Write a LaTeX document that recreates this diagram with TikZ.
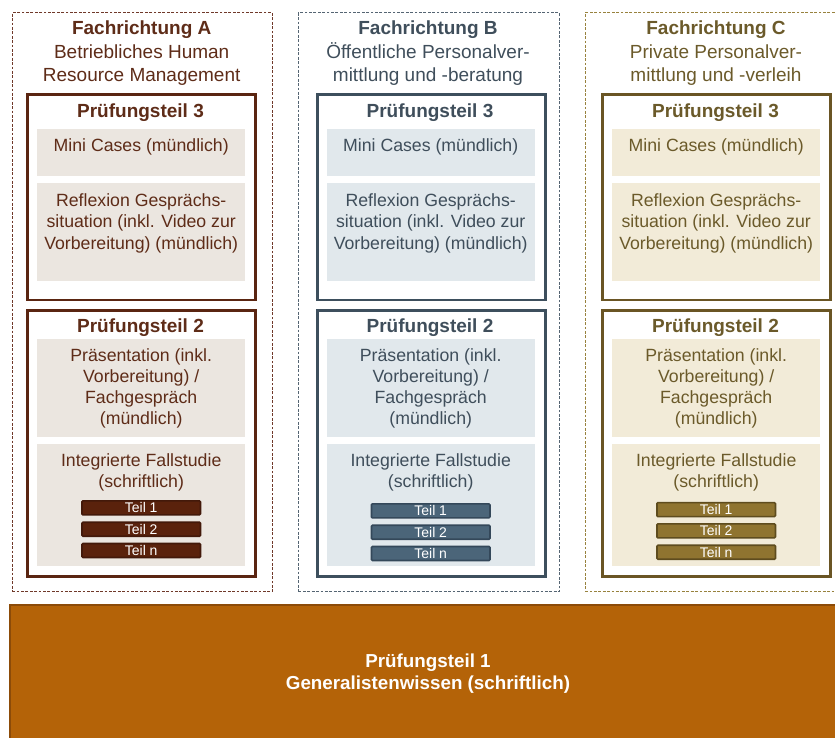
\documentclass[tikz,border=0pt]{standalone}
\usepackage{fontspec}
\setmainfont{Liberation Sans}
\definecolor{aMain}{HTML}{5A2511}
\definecolor{aText}{HTML}{5E2C18}
\definecolor{aFill}{HTML}{EBE6E0}
\definecolor{aTeil}{HTML}{5A220C}
\definecolor{aTeilLine}{HTML}{43190A}
\definecolor{aDash}{HTML}{70392A}
\definecolor{bMain}{HTML}{3D4F5D}
\definecolor{bText}{HTML}{3F4E5B}
\definecolor{bFill}{HTML}{E1E8EC}
\definecolor{bTeil}{HTML}{4B6579}
\definecolor{bTeilLine}{HTML}{34485A}
\definecolor{bDash}{HTML}{556573}
\definecolor{cMain}{HTML}{6A5524}
\definecolor{cText}{HTML}{6B5A2A}
\definecolor{cFill}{HTML}{F2EBD8}
\definecolor{cTeil}{HTML}{8F7430}
\definecolor{cTeilLine}{HTML}{5E4C1E}
\definecolor{cDash}{HTML}{98823E}
\definecolor{baseFill}{HTML}{B46308}
\definecolor{baseLine}{HTML}{8C4B08}
\tikzset{
 outerbox/.style={dash pattern=on 2.8pt off 1.6pt, line width=1pt, inner sep=0pt, anchor=north west},
 ptbox/.style={line width=2.8pt, fill=white, inner sep=0pt, anchor=north west, minimum width=228pt},
 innerbox/.style={inner sep=0pt, anchor=north west, minimum width=208pt},
 hdbold/.style={font=\fontsize{19}{23}\selectfont\bfseries, anchor=base, inner sep=0pt, align=center},
 hdreg/.style={font=\fontsize{19}{23}\selectfont, anchor=base, inner sep=0pt, align=center},
 body/.style={font=\fontsize{17.7}{21.2}\selectfont, anchor=base, inner sep=0pt, align=center},
 teilbar/.style={line width=1.6pt, rounded corners=1pt, minimum width=118.5pt, minimum height=14pt, inner sep=0pt, text=white, font=\fontsize{14}{15}\selectfont},
}
% #1 suffix, #2 outer left, #3 pt-box left, #4 main, #5 text colour, #6 fill, #7 teil fill, #8 teil line, #9 teil top
% (base anchor of a multi-line node = baseline of its last line)
\newcommand\fachspalte[9]{%
 \node[ptbox, draw=#4, minimum height=205.5pt] (pdrei#1) at (#3+1.4,93.1) {};
 \node[hdbold, text=#5] (pdreilabel#1) at (#3+115.5,117.3) {Prüfungsteil 3};
 \node[innerbox, fill=#6, minimum height=46.4pt] (mini#1) at (#3+12,129.3) {};
 \node[body, text=#5] (minitext#1) at (mini#1.north |- 0,151.5) {Mini Cases (mündlich)};
 \node[innerbox, fill=#6, minimum height=97.7pt] (refl#1) at (#3+12,183.3) {};
 \node[body, text=#5] (refltext#1) at (refl#1.north |- 0,249.1) {Reflexion Gesprächs-\\situation (inkl. Video zur\\Vorbereitung) (mündlich)};
 \node[ptbox, draw=#4, minimum height=265.9pt] (pzwei#1) at (#3+1.4,309.4) {};
 \node[hdbold, text=#5] (pzweilabel#1) at (#3+115.5,332.5) {Prüfungsteil 2};
 \node[innerbox, fill=#6, minimum height=97.7pt] (praes#1) at (#3+12,339) {};
 \node[body, text=#5] (praestext#1) at (praes#1.north |- 0,424.8) {Präsentation (inkl.\\Vorbereitung) /\\Fachgespräch\\(mündlich)};
 \node[innerbox, fill=#6, minimum height=121.7pt] (fall#1) at (#3+12,444) {};
 \node[body, text=#5] (falltext#1) at (fall#1.north |- 0,487.6) {Integrierte Fallstudie\\(schriftlich)};
 \node[teilbar, fill=#7, draw=#8, anchor=north] (teileins#1) at (fall#1.north |- 0,#9+0.8) {Teil 1};
 \node[teilbar, fill=#7, draw=#8, anchor=north] (teilzwei#1) at (fall#1.north |- 0,#9+22.1) {Teil 2};
 \node[teilbar, fill=#7, draw=#8, anchor=north] (teiln#1) at (fall#1.north |- 0,#9+43.4) {Teil n};
}
\begin{document}
\begin{tikzpicture}[x=1pt,y=-1pt]
\useasboundingbox (0,0) rectangle (835,738);
% dashed outer frames
\node[outerbox, draw=aDash, minimum width=260pt, minimum height=579pt] (fachA) at (11.7,12.3) {};
\node[outerbox, draw=bDash, minimum width=260.5pt, minimum height=579pt] (fachB) at (298,12.3) {};
\node[outerbox, draw=cDash, minimum width=262pt, minimum height=579pt] (fachC) at (584.6,12.3) {};
% headers
\node[hdbold, text=aText] (titelA) at (141.7,35) {Fachrichtung A};
\node[hdreg, text=aText] (nameA) at (141.7,81.3) {Betriebliches Human\\Resource Management};
\node[hdbold, text=bText] (titelB) at (428,35) {Fachrichtung B};
\node[hdreg, text=bText] (nameB) at (428,81.3) {Öffentliche Personalver-\\mittlung und -beratung};
\node[hdbold, text=cText] (titelC) at (716,35) {Fachrichtung C};
\node[hdreg, text=cText] (nameC) at (716,81.3) {Private Personalver-\\mittlung und -verleih};
% columns
\fachspalte{A}{11.7}{25}{aMain}{aText}{aFill}{aTeil}{aTeilLine}{499.3}
\fachspalte{B}{298}{314.5}{bMain}{bText}{bFill}{bTeil}{bTeilLine}{502.3}
\fachspalte{C}{584.6}{600}{cMain}{cText}{cFill}{cTeil}{cTeilLine}{501}
% base
\node[draw=baseLine, fill=baseFill, line width=2pt, inner sep=0pt, anchor=north west, minimum width=850pt, minimum height=150pt] (basis) at (9,603.7) {};
\node[hdbold, text=white, font=\fontsize{18.8}{22}\selectfont\bfseries] (basistext) at (428,689.5) {Prüfungsteil 1\\Generalistenwissen (schriftlich)};
\end{tikzpicture}
\end{document}
